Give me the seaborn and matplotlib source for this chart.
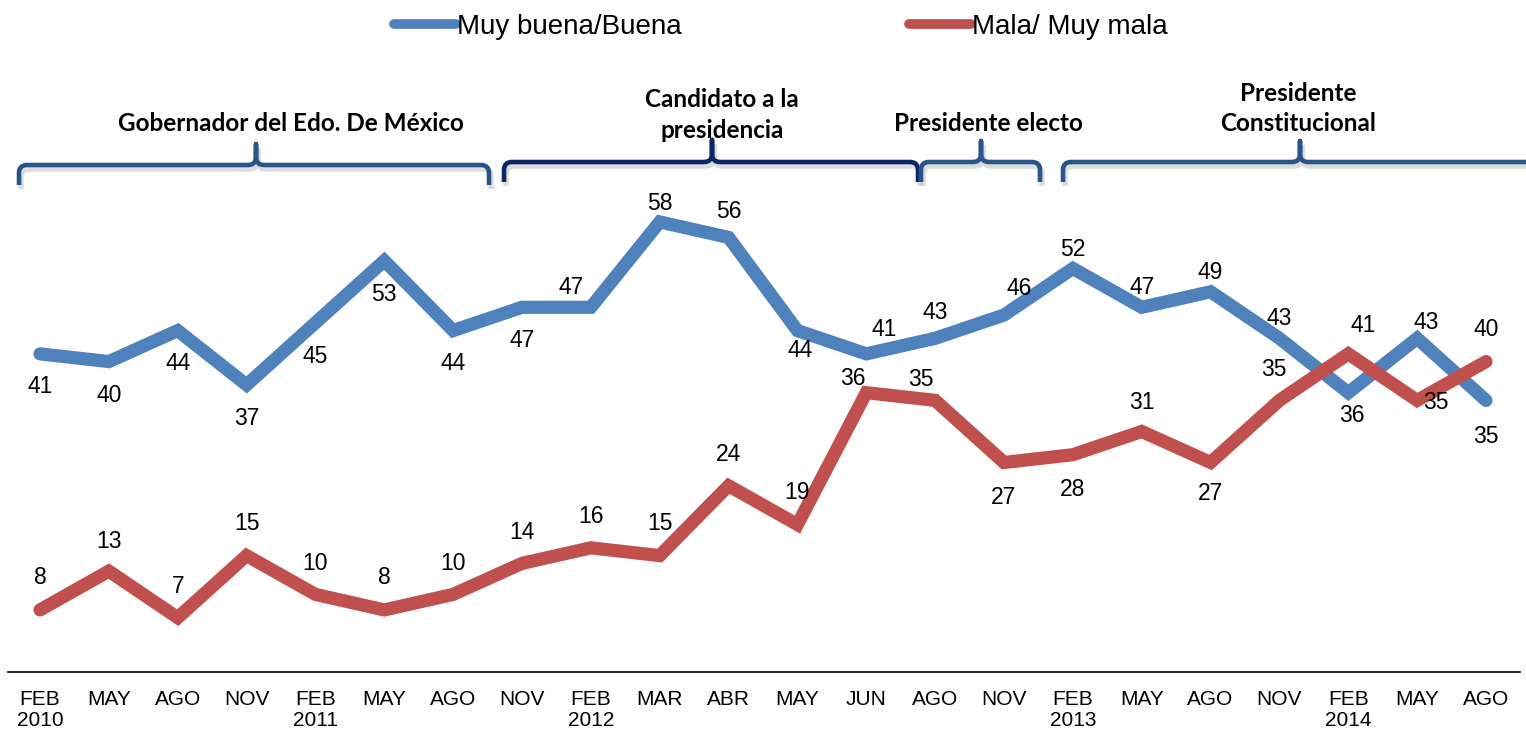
import numpy as np
import pandas as pd
import seaborn as sns
from matplotlib import pyplot as plt
from matplotlib.path import Path
from matplotlib.patches import PathPatch
from matplotlib.lines import Line2D

# datos
meses = ['FEB\n2010', 'MAY', 'AGO', 'NOV', 'FEB\n2011', 'MAY', 'AGO', 'NOV',
         'FEB\n2012', 'MAR', 'ABR', 'MAY', 'JUN', 'AGO', 'NOV', 'FEB\n2013',
         'MAY', 'AGO', 'NOV', 'FEB\n2014', 'MAY', 'AGO']
buena = [41, 40, 44, 37, 45, 53, 44, 47, 47, 58, 56, 44, 41, 43, 46, 52, 47, 49, 43, 36, 43, 35]
mala = [8, 13, 7, 15, 10, 8, 10, 14, 16, 15, 24, 19, 36, 35, 27, 28, 31, 27, 35, 41, 35, 40]
series = ['Muy buena/Buena', 'Mala/ Muy mala']
periodos = ['Gobernador del Edo. De México', 'Candidato a la\npresidencia',
            'Presidente electo', 'Presidente\nConstitucional']

azul = '#4F81BD'
rojo = '#C0504D'

# posiciones de etiquetas (pixeles)
off_buena = [(0, -33), (0, -34), (0, -33), (0, -34), (0, -34), (0, -34), (0, -33), (0, -33),
             (-20, 20), (0, 18), (0, 26), (3, -20), (18, 24), (0, 26), (15, 27), (0, 19),
             (0, 20), (0, 19), (0, 20), (4, -23), (9, 16), (0, -36)]
off_mala = [(0, 32), (0, 30), (0, 31), (0, 32), (0, 31), (0, 32), (0, 31), (0, 31),
            (0, 31), (0, 32), (0, 31), (0, 32), (-13, 14), (-14, 21), (0, -35), (0, -35),
            (0, 29), (0, -31), (-6, 31), (15, 28), (19, -2), (0, 32)]

sns.set_style('white')
plt.rcParams['font.family'] = ['Liberation Sans', 'DejaVu Sans']
plt.rcParams['text.color'] = 'black'
plt.rcParams['xtick.color'] = 'black'

df = pd.DataFrame({
    'idx': list(range(len(meses))) * 2,
    'valor': buena + mala,
    'serie': [series[0]] * len(buena) + [series[1]] * len(mala),
})

fig = plt.figure(figsize=(15.26, 7.31), dpi=100)
ax = fig.add_axes([8 / 1526, 59 / 731, 1512 / 1526, 672 / 731])
sns.lineplot(data=df, x='idx', y='valor', hue='serie',
             palette={series[0]: azul, series[1]: rojo},
             linewidth=9.5, legend=False, ax=ax,
             solid_capstyle='round', solid_joinstyle='miter')

px_x = 68.857
px_y = 7.76
ax.set_xlim(-32 / px_x, 1480 / px_x)
ax.set_ylim(0, 672 / px_y)

for i, v in enumerate(buena):
    ax.annotate(str(v), (i, v), xytext=off_buena[i], textcoords='offset pixels',
                ha='center', va='center', fontsize=16.5, color='black')
for i, v in enumerate(mala):
    ax.annotate(str(v), (i, v), xytext=off_mala[i], textcoords='offset pixels',
                ha='center', va='center', fontsize=16.5, color='black')

ax.set_xticks(range(len(meses)))
ax.set_xticklabels(meses, fontsize=15, linespacing=1.1)
ax.tick_params(axis='x', length=0, pad=13, colors='black')
ax.set_yticks([])
ax.set_xlabel('')
ax.set_ylabel('')
for s in ['left', 'right', 'top']:
    ax.spines[s].set_visible(False)
ax.spines['bottom'].set_color('black')
ax.spines['bottom'].set_linewidth(1.2)


def llave(x0, x1, xm, y, color, drop=20, rise=21, r=8):
    rx, ry = r / px_x, r / px_y
    d, u = drop / px_y, rise / px_y
    verts = [(x0, y - d), (x0, y - ry), (x0, y), (x0 + rx, y),
             (xm - rx, y), (xm, y), (xm, y + ry), (xm, y + u),
             (xm, y + ry), (xm, y), (xm + rx, y),
             (x1 - rx, y), (x1, y), (x1, y - ry), (x1, y - d)]
    codes = [Path.MOVETO, Path.LINETO, Path.CURVE3, Path.CURVE3,
             Path.LINETO, Path.CURVE3, Path.CURVE3, Path.LINETO,
             Path.LINETO, Path.CURVE3, Path.CURVE3,
             Path.LINETO, Path.CURVE3, Path.CURVE3, Path.LINETO]
    sombra = [(vx + 2 / px_x, vy - 4 / px_y) for vx, vy in verts]
    ax.add_patch(PathPatch(Path(sombra, codes), fill=False, lw=4, ec='#bbbbbb',
                           alpha=0.5, clip_on=False, capstyle='butt'))
    ax.add_patch(PathPatch(Path(verts, codes), fill=False, lw=3.3, ec=color,
                           clip_on=False, capstyle='butt', joinstyle='round'))


def dx(p):
    return (p - 40) / px_x


def dy(p):
    return (672 - p) / px_y


llave(dx(19), dx(489), dx(256), dy(165), '#2A5589')
llave(dx(504), dx(918), dx(712), dy(162), '#0B2766', rise=22)
llave(dx(921), dx(1040), dx(981), dy(162), '#2A5589')
llave(dx(1063), dx(1560), dx(1300), dy(162), '#2A5589')

tx = [291, 722, 988, 1298]
ty = [123, 115, 123, 108.5]
for t, x, y in zip(periodos, tx, ty):
    ax.text(dx(x), dy(y), t, ha='center', va='center', fontsize=17.5,
            fontweight='bold', family=['Lato', 'DejaVu Sans'], linespacing=1.42,
            clip_on=False, color='black')

handles = [Line2D([], [], color=azul, lw=7, solid_capstyle='round'),
           Line2D([], [], color=rojo, lw=7, solid_capstyle='round')]
fig.legend(handles, series, loc='center', bbox_to_anchor=(781 / 1526, 1 - 27 / 731),
           ncol=2, frameon=False, fontsize=20, handlelength=2.2, handletextpad=0.05,
           columnspacing=8.2, labelcolor='black')

plt.savefig('out.png', dpi=100)
